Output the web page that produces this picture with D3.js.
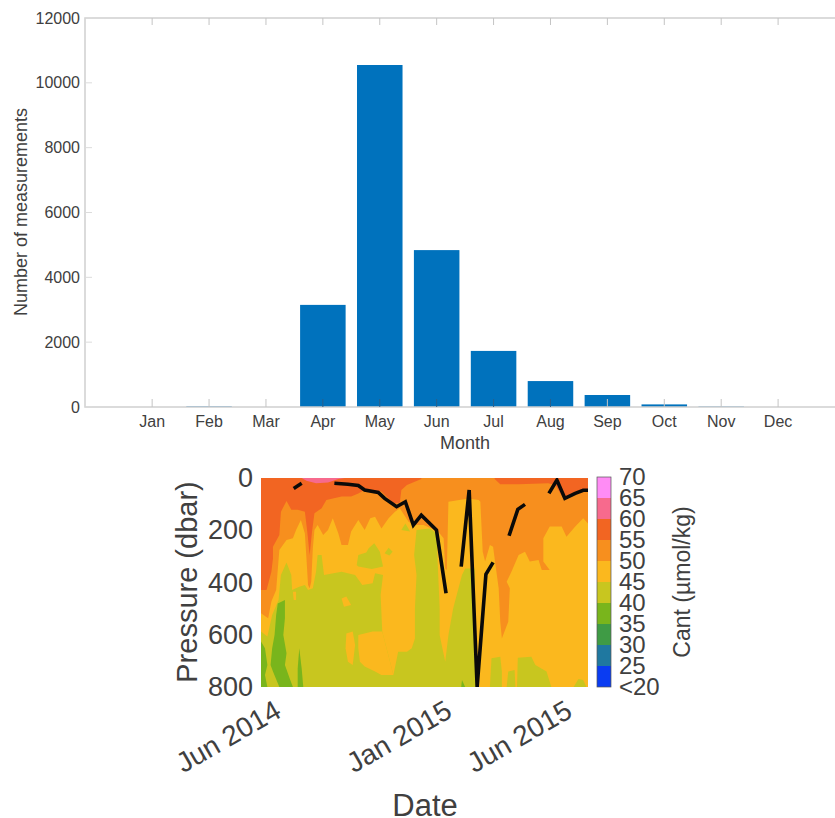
<!DOCTYPE html>
<html>
<head>
<meta charset="utf-8">
<script src="https://cdn.jsdelivr.net/npm/d3@7"></script>
<style>
	html, body { margin: 0; padding: 0; background: #fff; }
	svg { display: block; font-family: "Liberation Sans", Arial, sans-serif; }
</style>
</head>
<body>
<svg id="container" width="835" height="818"></svg>
<script>
// top chart data
const months = ['Jan', 'Feb', 'Mar', 'Apr', 'May', 'Jun', 'Jul', 'Aug', 'Sep', 'Oct', 'Nov', 'Dec'];
const counts = [0, 20, 0, 3150, 10550, 4840, 1730, 800, 370, 80, 15, 0];
const countTicks = [0, 2000, 4000, 6000, 8000, 10000, 12000];

// contour bands of the section, each point is [days since 12 May 2014, pressure in dbar]
const band60 = [[51, 0], [57, 11], [69, 20], [84, 17], [97, 4], [105, 0]];
const band50 = [[0, 429], [7, 429], [13, 359], [15, 308], [15, 263], [23, 218], [25, 129], [32, 88], [38, 122], [46, 122], [55, 129], [58, 205], [61, 295], [64, 205], [67, 135], [76, 116], [82, 84], [101, 71], [113, 71], [122, 59], [130, 45], [151, 52], [166, 97], [174, 97], [176, 46], [183, 27], [201, 4], [201, 0], [293, 0], [293, 4], [300, 24], [323, 24], [360, 20], [369, 27], [379, 78], [394, 52], [410, 42], [410, 800], [0, 800]];
const band45 = [[0, 518], [9, 537], [13, 473], [19, 429], [21, 352], [23, 276], [32, 237], [40, 231], [44, 199], [50, 161], [55, 212], [57, 308], [59, 410], [61, 422], [63, 397], [65, 269], [67, 199], [71, 180], [78, 218], [84, 199], [90, 154], [97, 212], [101, 256], [109, 256], [113, 205], [122, 161], [130, 199], [137, 154], [143, 148], [151, 193], [160, 154], [168, 129], [174, 116], [185, 167], [193, 180], [204, 180], [222, 205], [229, 231], [231, 346], [233, 352], [235, 91], [260, 78], [273, 84], [275, 91], [276, 154], [278, 282], [281, 320], [287, 256], [291, 263], [294, 333], [298, 422], [300, 550], [302, 614], [310, 550], [312, 422], [308, 397], [314, 359], [323, 295], [331, 282], [337, 320], [348, 314], [352, 352], [362, 352], [354, 320], [354, 231], [362, 186], [377, 186], [383, 225], [394, 186], [404, 154], [410, 174], [410, 800], [0, 800]];
const band40 = [[0, 588], [8, 607], [14, 524], [22, 467], [25, 371], [32, 323], [38, 371], [39, 429], [48, 416], [55, 410], [59, 429], [65, 422], [69, 359], [71, 295], [76, 295], [79, 371], [101, 359], [118, 371], [127, 410], [140, 403], [143, 365], [153, 371], [150, 448], [152, 588], [166, 754], [172, 665], [183, 665], [189, 652], [193, 614], [193, 499], [195, 371], [192, 295], [195, 199], [212, 193], [220, 212], [224, 499], [224, 601], [231, 703], [235, 601], [241, 499], [252, 371], [256, 346], [268, 346], [270, 800], [0, 800]];
const band40Patches = [
	[[120, 333], [122, 295], [132, 285], [135, 269], [142, 250], [149, 282], [153, 339], [139, 348], [122, 339]],
	[[155, 288], [160, 267], [165, 282], [161, 297]],
	[[176, 199], [181, 174], [187, 205]],
	[[287, 800], [289, 690], [300, 684], [302, 741], [302, 800]],
	[[308, 800], [310, 741], [318, 735], [319, 800]],
	[[321, 800], [322, 688], [339, 684], [344, 716], [358, 741], [364, 800]],
	[[392, 800], [398, 769], [404, 773], [408, 800]]
];
const band45Patches = [
	[[107, 595], [115, 588], [118, 639], [115, 716], [109, 703], [106, 652]],
	[[122, 601], [140, 588], [152, 588], [166, 754], [151, 754], [143, 741], [130, 722], [124, 703], [122, 652]],
	[[101, 461], [107, 454], [113, 486], [104, 493]],
	[[40, 435], [44, 435], [44, 467], [41, 467]]
];
const band35Patches = [
	[[21, 480], [30, 467], [30, 537], [28, 601], [32, 671], [30, 716], [36, 767], [40, 800], [23, 800], [15, 741], [12, 716], [14, 652], [17, 601], [19, 524]],
	[[0, 626], [5, 652], [8, 716], [5, 754], [8, 800], [0, 800]],
	[[48, 652], [51, 729], [53, 800], [46, 800], [46, 729]],
	[[252, 773], [256, 800], [251, 800]]
];

// black line, split where the picture has gaps
const lineSegments = [
	[[41, 40], [51, 20]],
	[[92, 20], [109, 24], [122, 29], [130, 46], [147, 55], [155, 78], [170, 110], [181, 91], [191, 180], [201, 142], [220, 199], [232, 441]],
	[[251, 339], [261, 46], [271, 800], [282, 369], [291, 323]],
	[[311, 221], [322, 120], [331, 101]],
	[[361, 59], [371, 8], [381, 78], [394, 59], [404, 47], [410, 47]]
];

const pressureTicks = [0, 200, 400, 600, 800];
const dateTicks = [['2014-06-01', 'Jun 2014'], ['2015-01-01', 'Jan 2015'], ['2015-06-01', 'Jun 2015']];
const colorSteps = [20, 25, 30, 35, 40, 45, 50, 55, 60, 65];
const colorStepFills = ['#0a3cf2', '#1f78a0', '#3f9b45', '#79b51c', '#c8c61f', '#fbb81e', '#f78f1e', '#f26522', '#f76a8d', '#ff8cf5'];
const colorLabels = ['<20', '25', '30', '35', '40', '45', '50', '55', '60', '65', '70'];

const svg = d3.select('#container');
const textColor = '#404040';

function drawBars() {
	const x = d3.scaleLinear().domain([-1.18, 12.0]).range([85, 835]);
	const y = d3.scaleLinear().domain([0, 12000]).range([407, 18]);
	const w = x(0.8) - x(0);
	const axisColor = '#cfcfcf';

	const g = svg.append('g');

	g.selectAll('.bar')
		.data(counts)
		.enter()
		.append('rect')
		.attr('class', 'bar')
		.attr('x', (d, i) => x(i) - w / 2)
		.attr('y', d => y(d))
		.attr('width', w)
		.attr('height', d => y(0) - y(d))
		.attr('fill', '#0072bd');

	// MATLAB style box, ticks point inside
	g.append('path')
		.attr('d', 'M835,' + y(12000) + 'H' + x.range()[0] + 'V' + y(0) + 'H835')
		.attr('fill', 'none')
		.attr('stroke', axisColor)
		.attr('stroke-width', 1.5);

	const xTicks = months.map((m, i) => i);
	g.selectAll('.tickBottom').data(xTicks).enter().append('line')
		.attr('x1', d => x(d)).attr('x2', d => x(d))
		.attr('y1', y(0)).attr('y2', y(0) - 8)
		.attr('stroke', (d) => counts[d] > 400 ? '#2a5f8a' : '#c4c4c4');
	g.selectAll('.tickTop').data(xTicks).enter().append('line')
		.attr('x1', d => x(d)).attr('x2', d => x(d))
		.attr('y1', y(12000)).attr('y2', y(12000) + 7)
		.attr('stroke', '#c4c4c4');
	g.selectAll('.tickLeft').data(countTicks).enter().append('line')
		.attr('x1', x.range()[0]).attr('x2', x.range()[0] + 7)
		.attr('y1', d => y(d)).attr('y2', d => y(d))
		.attr('stroke', '#dcdcdc');

	g.selectAll('.monthLabel').data(months).enter().append('text')
		.attr('x', (d, i) => x(i))
		.attr('y', 427)
		.attr('text-anchor', 'middle')
		.attr('font-size', 16)
		.attr('fill', textColor)
		.text(d => d);

	g.selectAll('.countLabel').data(countTicks).enter().append('text')
		.attr('x', 80)
		.attr('y', d => y(d) + 5.5)
		.attr('text-anchor', 'end')
		.attr('font-size', 16)
		.attr('fill', textColor)
		.text(d => d);

	g.append('text')
		.attr('x', 465)
		.attr('y', 449)
		.attr('text-anchor', 'middle')
		.attr('font-size', 18)
		.attr('fill', textColor)
		.text('Month');

	g.append('text')
		.attr('transform', 'translate(27,212) rotate(-90)')
		.attr('text-anchor', 'middle')
		.attr('font-size', 18)
		.attr('fill', textColor)
		.text('Number of measurements');
}

function drawSection() {
	const start = new Date(2014, 4, 12);
	const end = d3.timeDay.offset(start, 410);
	const x = d3.scaleTime().domain([start, end]).range([261, 588]);
	const y = d3.scaleLinear().domain([0, 800]).range([478, 687]);
	const dayX = d => x(d3.timeDay.offset(start, d));

	const outline = d3.line().x(d => dayX(d[0])).y(d => y(d[1]));

	svg.append('clipPath')
		.attr('id', 'clip')
		.append('rect')
		.attr('x', 261).attr('y', 478)
		.attr('width', 327).attr('height', 209);

	const g = svg.append('g').attr('clip-path', 'url(#clip)');

	const fill = d3.scaleThreshold()
		.domain(colorSteps.slice(1))
		.range(colorStepFills);

	g.append('rect')
		.attr('x', 261).attr('y', 478)
		.attr('width', 327).attr('height', 209)
		.attr('fill', fill(55));

	// painted from warm to cold, then the patches on top
	const layers = [
		[[band60], 60], [[band50], 50], [[band45], 45], [[band40], 40],
		[band45Patches, 45], [band40Patches, 40], [band35Patches, 35]
	];
	layers.forEach(layer => {
		g.selectAll(null)
			.data(layer[0])
			.enter()
			.append('path')
			.attr('d', d => outline(d) + 'Z')
			.attr('fill', fill(layer[1]));
	});

	g.selectAll('.mld')
		.data(lineSegments)
		.enter()
		.append('path')
		.attr('class', 'mld')
		.attr('d', outline)
		.attr('fill', 'none')
		.attr('stroke', '#0a0a0a')
		.attr('stroke-width', 3.6)
		.attr('stroke-linejoin', 'miter');

	svg.selectAll('.pLabel').data(pressureTicks).enter().append('text')
		.attr('x', 253)
		.attr('y', d => y(d) + 9)
		.attr('text-anchor', 'end')
		.attr('font-size', 27)
		.attr('fill', textColor)
		.text(d => d);

	svg.append('text')
		.attr('transform', 'translate(197,582) rotate(-90)')
		.attr('text-anchor', 'middle')
		.attr('font-size', 29)
		.attr('fill', textColor)
		.text('Pressure (dbar)');

	svg.selectAll('.dLabel').data(dateTicks).enter().append('text')
		.attr('transform', d => 'translate(' + (x(new Date(d[0] + 'T00:00')) + 6) + ',716) rotate(-30)')
		.attr('text-anchor', 'end')
		.attr('font-size', 28)
		.attr('fill', textColor)
		.text(d => d[1]);

	svg.append('text')
		.attr('x', 425)
		.attr('y', 816)
		.attr('text-anchor', 'middle')
		.attr('font-size', 31)
		.attr('fill', textColor)
		.text('Date');

	// colour bar
	const c = d3.scaleLinear().domain([20, 70]).range([687, 477]);
	svg.selectAll('.step').data(colorSteps).enter().append('rect')
		.attr('x', 597)
		.attr('y', d => c(d + 5))
		.attr('width', 14)
		.attr('height', d => c(d) - c(d + 5))
		.attr('fill', d => fill(d));
	svg.append('rect')
		.attr('x', 597).attr('y', c(70))
		.attr('width', 14).attr('height', c(20) - c(70))
		.attr('fill', 'none')
		.attr('stroke', '#555')
		.attr('stroke-width', 0.7);

	svg.selectAll('.cLabel').data(colorLabels).enter().append('text')
		.attr('x', 619)
		.attr('y', (d, i) => c(20 + i * 5) + 8)
		.attr('font-size', 24)
		.attr('fill', textColor)
		.text(d => d);

	svg.append('text')
		.attr('transform', 'translate(690,582) rotate(-90)')
		.attr('text-anchor', 'middle')
		.attr('font-size', 23)
		.attr('fill', textColor)
		.text('Cant (µmol/kg)');
}

drawBars();
drawSection();
</script>
</body>
</html>
